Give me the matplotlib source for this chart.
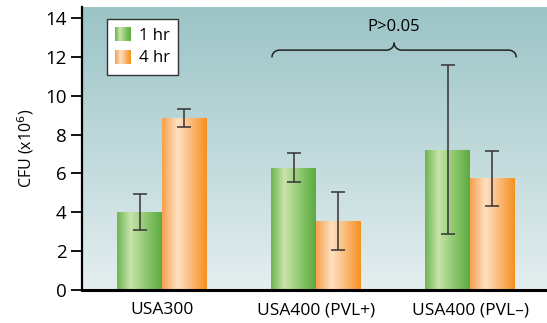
import matplotlib
matplotlib.use("Agg")
import matplotlib.pyplot as plt
from matplotlib.colors import LinearSegmentedColormap
from matplotlib.patches import Rectangle
import numpy as np

plt.rcParams["font.family"] = ["Open Sans", "DejaVu Sans"]

# data
groups = ["USA300", "USA400 (PVL+)", "USA400 (PVL\u2013)"]
series = ["1 hr", "4 hr"]
mean_1hr = [4.0, 6.28, 7.2]
low_1hr = [3.1, 5.55, 2.87]
high_1hr = [4.95, 7.05, 11.58]
mean_4hr = [8.85, 3.55, 5.75]
low_4hr = [8.4, 2.07, 4.35]
high_4hr = [9.3, 5.07, 7.15]
yticks = [0, 2, 4, 6, 8, 10, 12, 14]
bracket_label = "P>0.05"

green = LinearSegmentedColormap.from_list(
    "g", [(0, "#6cb552"), (0.3, "#c8e3aa"), (0.7, "#86c466"), (1, "#5caa42")])
orange = LinearSegmentedColormap.from_list(
    "o", [(0, "#f7a04e"), (0.35, "#fee0c2"), (0.75, "#f9ae62"), (1, "#f5901c")])
bg = LinearSegmentedColormap.from_list("bg", ["#e4eeef", "#9bc4c6"])


class GradientHandler:
    """Legend key drawn as thin vertical slices of a colormap."""

    def __init__(self, cmap):
        self.cmap = cmap

    def legend_artist(self, legend, orig_handle, fontsize, handlebox):
        x0, y0 = -handlebox.xdescent, -handlebox.ydescent
        wd, ht = handlebox.width, handlebox.height
        n = 20
        for i in range(n):
            r = Rectangle((x0 + wd * i / n, y0), wd / n + 0.3, ht,
                          facecolor=self.cmap((i + 0.5) / n), edgecolor="none")
            handlebox.add_artist(r)
        return r


fig = plt.figure(figsize=(5.47, 3.23), dpi=100)
ax = fig.add_axes([82 / 547, 33 / 323, 465 / 547, 283 / 323])

grad = np.linspace(0, 1, 256).reshape(-1, 1)
ax.imshow(grad, cmap=bg, origin="lower", aspect="auto",
          extent=[0, 1, 0, 1], transform=ax.transAxes, zorder=0)

x = np.arange(len(groups))
w = 0.29
hgrad = np.linspace(0, 1, 256).reshape(1, -1)


def grad_bars(xs, vals, cmap):
    bars = ax.bar(xs, vals, w, color="none", zorder=2)
    for b in bars:
        x0, y0 = b.get_x(), b.get_y()
        im = ax.imshow(hgrad, cmap=cmap, aspect="auto", zorder=2,
                       extent=[x0, x0 + b.get_width(), y0, y0 + b.get_height()])
        im.set_clip_path(b)
    return bars


grad_bars(x - w / 2, mean_1hr, green)
grad_bars(x + w / 2, mean_4hr, orange)

for xs, m, lo, hi in [(x - w / 2, mean_1hr, low_1hr, high_1hr),
                      (x + w / 2, mean_4hr, low_4hr, high_4hr)]:
    m = np.array(m)
    err = [m - np.array(lo), np.array(hi) - m]
    ax.errorbar(xs, m, yerr=err, fmt="none", ecolor="#333333",
                elinewidth=1.1, capsize=5, capthick=1.1, zorder=3)

ax.set_xlim(-0.52, 2.5)
ax.set_ylim(0, 14.57)
ax.set_xticks(x)
ax.set_xticklabels(groups, fontsize=12.5)
ax.set_yticks(yticks)
ax.tick_params(axis="y", labelsize=13.5, length=8, width=1.3, pad=3)
ax.tick_params(axis="x", length=0, pad=9)
ax.set_ylabel("CFU (x10$^6$)", fontsize=11.5, labelpad=7)
for s in ["top", "right"]:
    ax.spines[s].set_visible(False)
ax.spines["left"].set_linewidth(1.6)
ax.spines["bottom"].set_linewidth(2.2)

# brace over the USA400 groups
bx0, bx1 = 0.714, 2.3
bmid = (bx0 + bx1) / 2
yb, yh, yt = 12.0, 12.35, 12.72
t = np.linspace(0, np.pi / 2, 12)
rx, ry = 0.05, yh - yb
left_end = (bx0 + rx - rx * np.cos(t), yb + ry * np.sin(t))
mid_l = (bmid - rx + rx * np.sin(t), yh + (yt - yh) * (1 - np.cos(t)))
mid_r = (bmid + rx - rx * np.sin(t[::-1]), yh + (yt - yh) * (1 - np.cos(t[::-1])))
right_end = (bx1 - rx + rx * np.cos(t[::-1]), yb + ry * np.sin(t[::-1]))
bx = np.concatenate([left_end[0], mid_l[0], mid_r[0], right_end[0]])
by = np.concatenate([left_end[1], mid_l[1], mid_r[1], right_end[1]])
ax.plot(bx, by, color="#222222", lw=1.1, zorder=4, solid_capstyle="round")
ax.text(bmid, 13.15, bracket_label, ha="center", va="bottom", fontsize=12)

handles = [Rectangle((0, 0), 1, 1), Rectangle((0, 0), 1, 1)]
leg = ax.legend(handles, series, loc="upper left", bbox_to_anchor=(0.054, 0.958),
                borderaxespad=0, fontsize=12, frameon=True, fancybox=False,
                framealpha=1, handlelength=0.9, handleheight=0.9,
                handletextpad=0.5, borderpad=0.5, labelspacing=0.35,
                handler_map={handles[0]: GradientHandler(green),
                             handles[1]: GradientHandler(orange)})
leg.get_frame().set_edgecolor("#333333")
leg.get_frame().set_facecolor("white")
leg.get_frame().set_linewidth(1.0)
leg.set_zorder(5)

fig.savefig("out.png", dpi=100)
